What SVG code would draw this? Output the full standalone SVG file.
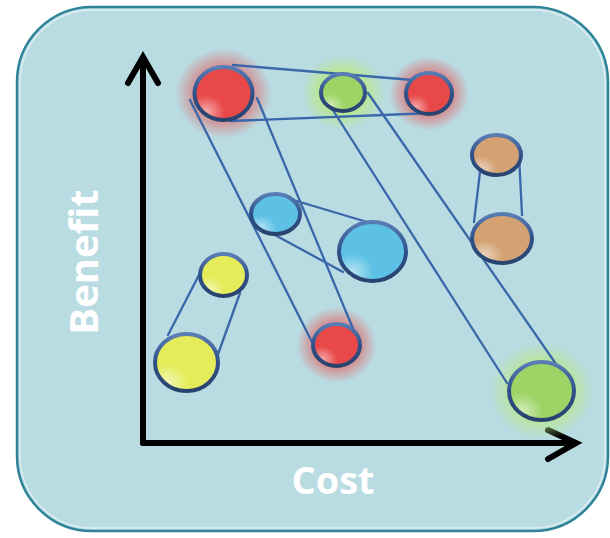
<svg xmlns="http://www.w3.org/2000/svg" width="610" height="538" viewBox="0 0 610 538">
<style>
.bg{fill:#b9dbe2;stroke:#2f8398;stroke-width:2.5}
.bevel{fill:none;stroke:#e4f3f6;stroke-width:1.5;opacity:0.8}
.axis{fill:none;stroke:#000;stroke-width:6;stroke-linecap:round;stroke-linejoin:miter}
.link{stroke:#3a67aa;stroke-width:2.3;fill:none;stroke-linecap:round}
.ring{fill:none;stroke:url(#ringG);stroke-width:4}
.hl{fill:url(#hlG)}
.red{fill:#e84848}
.green{fill:#9dd466}
.cyan{fill:#5cc1e4}
.yellow{fill:#e4ec5a}
.orange{fill:#d3a172}
.lbl{fill:#ffffff;font-family:"Open Sans","Liberation Sans",sans-serif;font-weight:bold;font-size:40px}
</style>
<defs>
<linearGradient id="ringG" x1="0" y1="0" x2="0" y2="1">
<stop offset="0" stop-color="#5a7db5"/>
<stop offset="0.5" stop-color="#2f5088"/>
<stop offset="1" stop-color="#29436f"/>
</linearGradient>
<radialGradient id="hlG" cx="0.2" cy="0.85" r="0.32">
<stop offset="0" stop-color="#ffffff" stop-opacity="0.55"/>
<stop offset="1" stop-color="#ffffff" stop-opacity="0"/>
</radialGradient>
<radialGradient id="glowR">
<stop offset="0.55" stop-color="#e06a6a" stop-opacity="0.75"/>
<stop offset="1" stop-color="#e06a6a" stop-opacity="0"/>
</radialGradient>
<radialGradient id="glowG">
<stop offset="0.55" stop-color="#b8e888" stop-opacity="0.85"/>
<stop offset="1" stop-color="#b8e888" stop-opacity="0"/>
</radialGradient>
</defs>

<rect class="bg" x="17" y="7" width="591" height="524" rx="75" ry="75"/>
<rect class="bevel" x="20" y="10" width="585" height="518" rx="72" ry="72"/>

<g id="axes">
<line class="axis" x1="143" y1="58" x2="143" y2="443"/>
<polyline class="axis" points="128,83 143,57 158,83"/>
<line class="axis" x1="143" y1="443" x2="574" y2="443"/>
<polyline class="axis" points="548,430 576,443 548,459"/>
</g>

<g id="labels">
<text class="lbl" text-anchor="middle" transform="translate(98,262) rotate(-90)">Benefit</text>
<text class="lbl" x="333" y="494" text-anchor="middle" style="font-size:38px">Cost</text>
</g>

<g id="glows">
<ellipse cx="223.5" cy="93.5" rx="48" ry="45" fill="url(#glowR)"/>
<ellipse cx="343" cy="92.5" rx="42" ry="38" fill="url(#glowG)"/>
<ellipse cx="429" cy="93.5" rx="40" ry="37" fill="url(#glowR)"/>
<ellipse cx="336.5" cy="345" rx="40" ry="38" fill="url(#glowR)"/>
<ellipse cx="541.5" cy="391" rx="52" ry="49" fill="url(#glowG)"/>
</g>

<g id="connectors">
<line class="link" x1="233" y1="65" x2="413" y2="80"/>
<line class="link" x1="230" y1="121" x2="433" y2="113"/>
<line class="link" x1="190" y1="100" x2="313" y2="344"/>
<line class="link" x1="257" y1="98" x2="354" y2="331"/>
<line class="link" x1="322" y1="93" x2="507" y2="383"/>
<line class="link" x1="368" y1="93" x2="556" y2="364"/>
<line class="link" x1="290" y1="199" x2="367" y2="222"/>
<line class="link" x1="275" y1="235" x2="343" y2="272"/>
<line class="link" x1="200" y1="273" x2="168" y2="335"/>
<line class="link" x1="240" y1="293" x2="217" y2="357"/>
<line class="link" x1="480" y1="172" x2="474" y2="222"/>
<line class="link" x1="519" y1="155" x2="522" y2="215"/>
</g>

<g id="n1"><ellipse class="red" cx="223.5" cy="93.5" rx="29" ry="26.5"/><ellipse class="hl" cx="223.5" cy="93.5" rx="29" ry="26.5"/><ellipse class="ring" cx="223.5" cy="93.5" rx="29" ry="26.5"/></g>
<g id="n2"><ellipse class="green" cx="343" cy="92.5" rx="22" ry="18.5"/><ellipse class="hl" cx="343" cy="92.5" rx="22" ry="18.5"/><ellipse class="ring" cx="343" cy="92.5" rx="22" ry="18.5"/></g>
<g id="n3"><ellipse class="red" cx="429" cy="93.5" rx="23" ry="20.5"/><ellipse class="hl" cx="429" cy="93.5" rx="23" ry="20.5"/><ellipse class="ring" cx="429" cy="93.5" rx="23" ry="20.5"/></g>
<g id="n4"><ellipse class="cyan" cx="275.5" cy="214" rx="24.5" ry="20"/><ellipse class="hl" cx="275.5" cy="214" rx="24.5" ry="20"/><ellipse class="ring" cx="275.5" cy="214" rx="24.5" ry="20"/></g>
<g id="n5"><ellipse class="cyan" cx="372.5" cy="251.5" rx="33.5" ry="29.5"/><ellipse class="hl" cx="372.5" cy="251.5" rx="33.5" ry="29.5"/><ellipse class="ring" cx="372.5" cy="251.5" rx="33.5" ry="29.5"/></g>
<g id="n6"><ellipse class="yellow" cx="223.5" cy="275" rx="23.5" ry="21"/><ellipse class="hl" cx="223.5" cy="275" rx="23.5" ry="21"/><ellipse class="ring" cx="223.5" cy="275" rx="23.5" ry="21"/></g>
<g id="n7"><ellipse class="yellow" cx="186.5" cy="362.5" rx="31.5" ry="28.5"/><ellipse class="hl" cx="186.5" cy="362.5" rx="31.5" ry="28.5"/><ellipse class="ring" cx="186.5" cy="362.5" rx="31.5" ry="28.5"/></g>
<g id="n8"><ellipse class="orange" cx="496.5" cy="155" rx="24.5" ry="20"/><ellipse class="hl" cx="496.5" cy="155" rx="24.5" ry="20"/><ellipse class="ring" cx="496.5" cy="155" rx="24.5" ry="20"/></g>
<g id="n9"><ellipse class="orange" cx="502" cy="238.5" rx="30" ry="24.5"/><ellipse class="hl" cx="502" cy="238.5" rx="30" ry="24.5"/><ellipse class="ring" cx="502" cy="238.5" rx="30" ry="24.5"/></g>
<g id="n10"><ellipse class="red" cx="336.5" cy="345" rx="23.5" ry="21"/><ellipse class="hl" cx="336.5" cy="345" rx="23.5" ry="21"/><ellipse class="ring" cx="336.5" cy="345" rx="23.5" ry="21"/></g>
<g id="n11"><ellipse class="green" cx="541.5" cy="391" rx="32.5" ry="29"/><ellipse class="hl" cx="541.5" cy="391" rx="32.5" ry="29"/><ellipse class="ring" cx="541.5" cy="391" rx="32.5" ry="29"/></g>
</svg>
